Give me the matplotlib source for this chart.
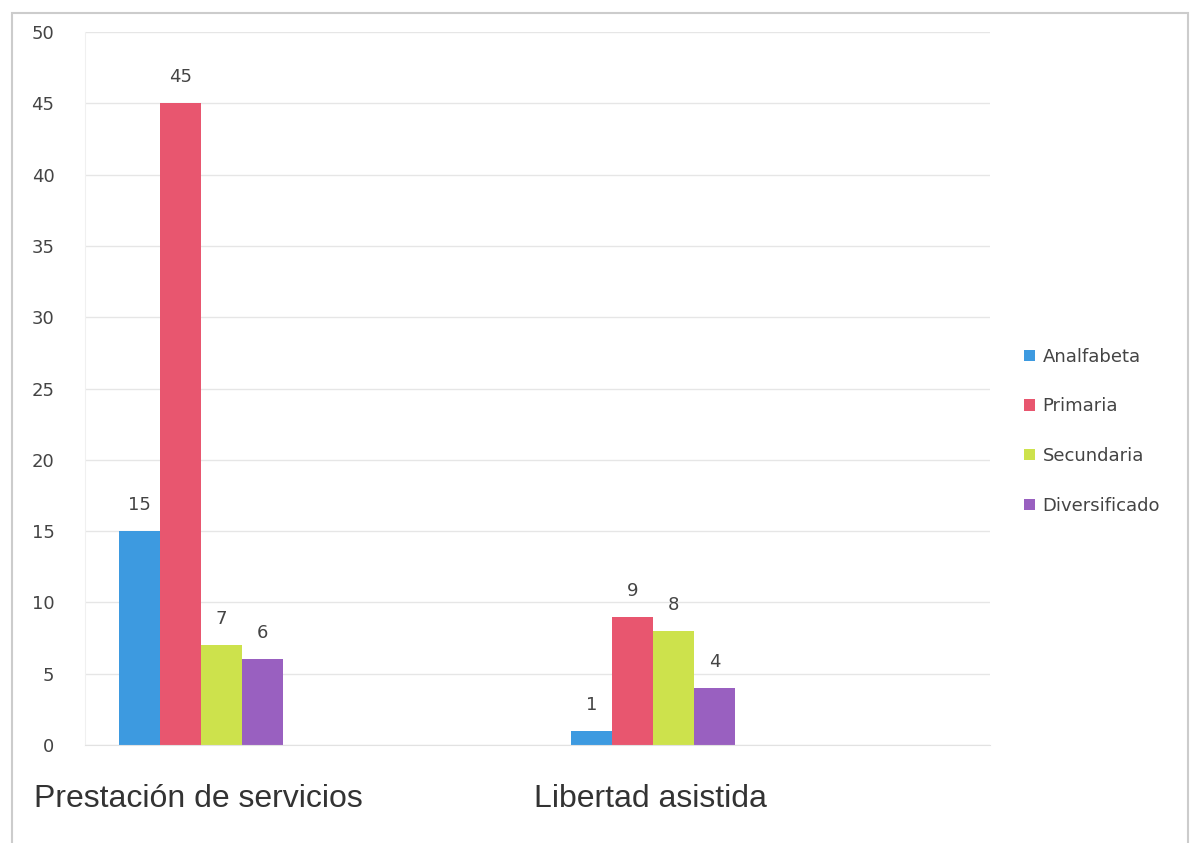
import matplotlib.pyplot as plt
from matplotlib.patches import Rectangle

categories = ["Prestación de servicios", "", "Libertad asistida", ""]
series = ["Analfabeta", "Primaria", "Secundaria", "Diversificado"]
values = {
    "Analfabeta": [15, None, 1, None],
    "Primaria": [45, None, 9, None],
    "Secundaria": [7, None, 8, None],
    "Diversificado": [6, None, 4, None],
}
colors = ["#3d9ae0", "#e8566f", "#cde24c", "#9960c0"]
yticks = [0, 5, 10, 15, 20, 25, 30, 35, 40, 45, 50]

fig = plt.figure(figsize=(11.9, 8.43), dpi=100)
ax = fig.add_axes([85 / 1190, 98 / 843, 905 / 1190, 713 / 843])

width = 0.181
for i, name in enumerate(series):
    for j, v in enumerate(values[name]):
        if v is None:
            continue
        x = j + 0.012 + (i - 1.5) * width
        ax.bar(x, v, width, color=colors[i], label=name if j == 0 else None)
        ax.text(x, v + 1.2, str(v), ha="center", va="bottom",
                fontsize=13, color="#444444")

ax.set_xlim(-0.5, 3.5)
ax.set_ylim(0, 50)
ax.set_yticks(yticks)
ax.set_yticklabels([str(t) for t in yticks], fontsize=13, color="#444444")
ax.set_xticks([0, 2])
ax.set_xticklabels([categories[0], categories[2]], fontsize=23,
                   color="#333333", family="Liberation Sans")
ax.tick_params(axis="x", length=0, pad=28)
ax.tick_params(axis="y", length=0, pad=22)
ax.grid(axis="y", color="#e6e6e6", linewidth=1.0)
ax.set_axisbelow(True)
for s in ["top", "right"]:
    ax.spines[s].set_visible(False)
ax.spines["left"].set_color("#f0f0f0")
ax.spines["bottom"].set_color("#e2e2e2")

ax.legend(loc="center left", bbox_to_anchor=(1.02, 0.44), frameon=False,
          fontsize=13, labelcolor="#444444", handlelength=0.6, handleheight=0.6,
          handletextpad=0.4, labelspacing=1.75)

fig.patches.append(Rectangle((12 / 1190, -0.01), 1176 / 1190, (843 - 13) / 843 + 0.01,
                             transform=fig.transFigure, fill=False,
                             edgecolor="#cccccc", linewidth=1.5))

fig.savefig("out.png", dpi=100)
